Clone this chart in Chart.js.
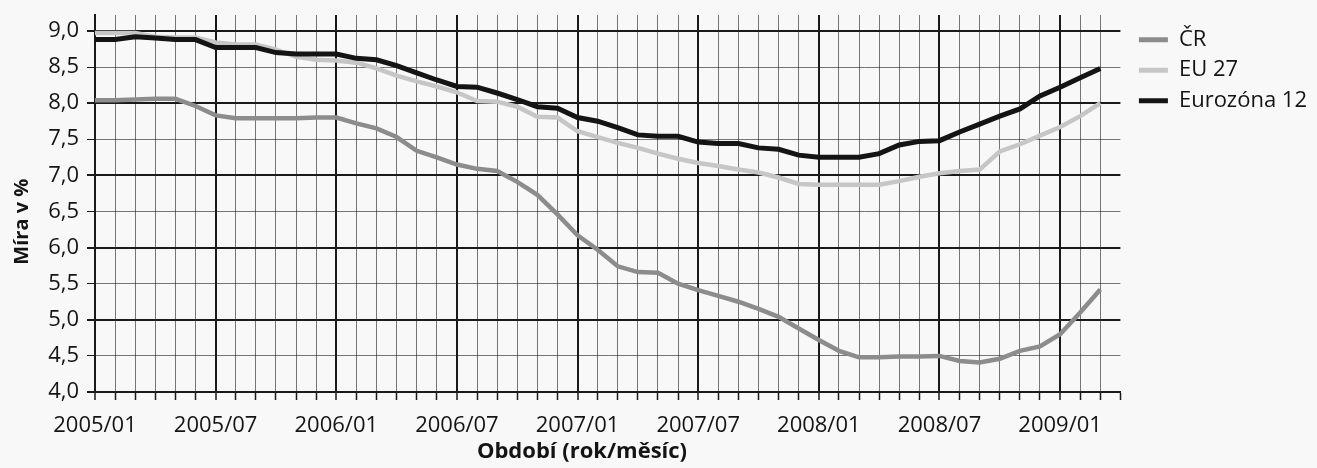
<!DOCTYPE html>
<html lang="cs">
<head>
<meta charset="utf-8">
<title>Míra v %</title>
<script src="https://cdn.jsdelivr.net/npm/chart.js@4.4.1/dist/chart.umd.min.js"></script>
<style>
  html, body { margin: 0; padding: 0; background: #f8f8f8; }
  #wrap { width: 1317px; height: 468px; position: relative; }
</style>
</head>
<body>
<div id="wrap"><canvas id="rateChart"></canvas></div>
<script>
// months 2005/01 .. 2009/04 (axis runs to 2009/04, data ends earlier)
const months = [
  "2005/01", "2005/02", "2005/03", "2005/04", "2005/05", "2005/06",
  "2005/07", "2005/08", "2005/09", "2005/10", "2005/11", "2005/12",
  "2006/01", "2006/02", "2006/03", "2006/04", "2006/05", "2006/06",
  "2006/07", "2006/08", "2006/09", "2006/10", "2006/11", "2006/12",
  "2007/01", "2007/02", "2007/03", "2007/04", "2007/05", "2007/06",
  "2007/07", "2007/08", "2007/09", "2007/10", "2007/11", "2007/12",
  "2008/01", "2008/02", "2008/03", "2008/04", "2008/05", "2008/06",
  "2008/07", "2008/08", "2008/09", "2008/10", "2008/11", "2008/12",
  "2009/01", "2009/02", "2009/03", "2009/04"
];

const cr = [
  8.04, 8.04, 8.05, 8.06, 8.06, 7.96, 7.83, 7.79, 7.79, 7.79, 7.79, 7.80,
  7.80, 7.72, 7.65, 7.53, 7.34, 7.25, 7.15, 7.09, 7.06, 6.91, 6.73, 6.46,
  6.17, 5.97, 5.74, 5.66, 5.65, 5.50, 5.41, 5.33, 5.25, 5.15, 5.04, 4.88,
  4.72, 4.57, 4.48, 4.48, 4.49, 4.49, 4.50, 4.43, 4.41, 4.46, 4.57, 4.63,
  4.80, 5.10, 5.42
];

const eu27 = [
  8.97, 8.97, 8.97, 8.92, 8.91, 8.91, 8.84, 8.81, 8.81, 8.74, 8.64, 8.60,
  8.59, 8.56, 8.48, 8.38, 8.30, 8.23, 8.15, 8.03, 8.02, 7.95, 7.81, 7.80,
  7.61, 7.53, 7.45, 7.38, 7.30, 7.23, 7.17, 7.13, 7.08, 7.04, 6.97, 6.88,
  6.87, 6.87, 6.87, 6.87, 6.92, 6.98, 7.03, 7.06, 7.08, 7.33, 7.43, 7.55,
  7.67, 7.82, 8.00
];

const eurozone12 = [
  8.88, 8.88, 8.92, 8.90, 8.88, 8.88, 8.77, 8.77, 8.77, 8.70, 8.68, 8.68,
  8.68, 8.62, 8.60, 8.52, 8.42, 8.32, 8.23, 8.22, 8.14, 8.05, 7.95, 7.93,
  7.80, 7.75, 7.66, 7.56, 7.54, 7.54, 7.46, 7.44, 7.44, 7.38, 7.36, 7.28,
  7.25, 7.25, 7.25, 7.30, 7.42, 7.47, 7.48, 7.60, 7.71, 7.82, 7.92, 8.10,
  8.22, 8.35, 8.48
];

const seriesNames = ["ČR", "EU 27", "Eurozóna 12"];
const seriesColors = ["#8c8c8c", "#c6c6c6", "#141414"];

const font = "'Open Sans', 'Noto Sans', sans-serif";
const ink = "#141414";
const lastIdx = months.length - 1;

const ctx = document.getElementById("rateChart").getContext("2d");

new Chart(ctx, {
  type: "line",
  data: {
    labels: months,
    datasets: [cr, eu27, eurozone12].map((values, i) => ({
      label: seriesNames[i],
      data: values,
      borderColor: seriesColors[i],
      backgroundColor: seriesColors[i],
      borderWidth: i === 2 ? 5 : 4.5,
      pointRadius: 0,
      tension: 0,
      order: 2 - i
    }))
  },
  options: {
    responsive: true,
    maintainAspectRatio: false,
    animation: false,
    layout: { padding: { top: 15, left: 8, right: 0, bottom: 3 } },
    plugins: {
      tooltip: { enabled: false },
      legend: {
        position: "right",
        align: "start",
        title: { display: true, text: "", font: { size: 1 }, padding: { top: 4, bottom: 0 } },
        labels: {
          color: ink,
          font: { family: font, size: 22 },
          boxWidth: 29,
          boxHeight: 5,
          padding: 8.5,
          generateLabels: chart => chart.data.datasets.map((ds, i) => ({
            text: ds.label,
            fillStyle: ds.borderColor,
            strokeStyle: ds.borderColor,
            lineWidth: 0,
            fontColor: ink,
            datasetIndex: i
          }))
        }
      }
    },
    scales: {
      x: {
        type: "category",
        offset: false,
        afterFit: scale => { scale.height = 73; },
        grid: {
          color: c => (c.index === lastIdx ? "rgba(0,0,0,0)"
            : c.index % 6 === 0 ? "#1a1a1a" : "rgba(30,30,30,0.6)"),
          lineWidth: c => (c.index % 6 === 0 ? 2 : 1),
          tickLength: 8,
          tickColor: "#1a1a1a",
          tickWidth: 1.5
        },
        border: { color: "#1a1a1a", width: 2 },
        ticks: {
          autoSkip: false,
          maxRotation: 0,
          padding: 13,
          color: ink,
          font: { family: font, size: 22 },
          callback: (val, index) => (index % 6 === 0 ? months[index] : "")
        },
        title: {
          display: true,
          text: "Období (rok/měsíc)         ",
          color: ink,
          font: { family: font, size: 22, weight: "bold" },
          padding: { top: 4, bottom: 0 }
        }
      },
      y: {
        min: 4,
        max: 9.22,
        afterFit: scale => {
          scale.width = 87;
          scale.paddingTop = 0;
          scale.paddingBottom = 0;
        },
        grid: {
          color: c => (c.tick && Number.isInteger(c.tick.value) ? "#1a1a1a" : "rgba(30,30,30,0.6)"),
          lineWidth: c => (c.tick && Number.isInteger(c.tick.value) ? 2 : 1),
          tickLength: 8,
          tickColor: "#1a1a1a"
        },
        border: { color: "#1a1a1a", width: 2 },
        ticks: {
          stepSize: 0.5,
          includeBounds: false,
          padding: 8,
          color: ink,
          font: { family: font, size: 22 },
          callback: v => v.toFixed(1).replace(".", ",")
        },
        title: {
          display: true,
          text: "Míra v %       ",
          color: ink,
          font: { family: font, size: 20, weight: "bold" },
          padding: { top: 2, bottom: 2 }
        }
      },
      // empty spacer between plot and legend
      gap: {
        position: "right",
        afterFit: scale => {
          scale.width = 10;
          scale.paddingTop = 0;
          scale.paddingBottom = 0;
        },
        grid: { drawOnChartArea: false, drawTicks: false },
        border: { display: false },
        ticks: { display: false }
      }
    }
  }
});
</script>
</body>
</html>
